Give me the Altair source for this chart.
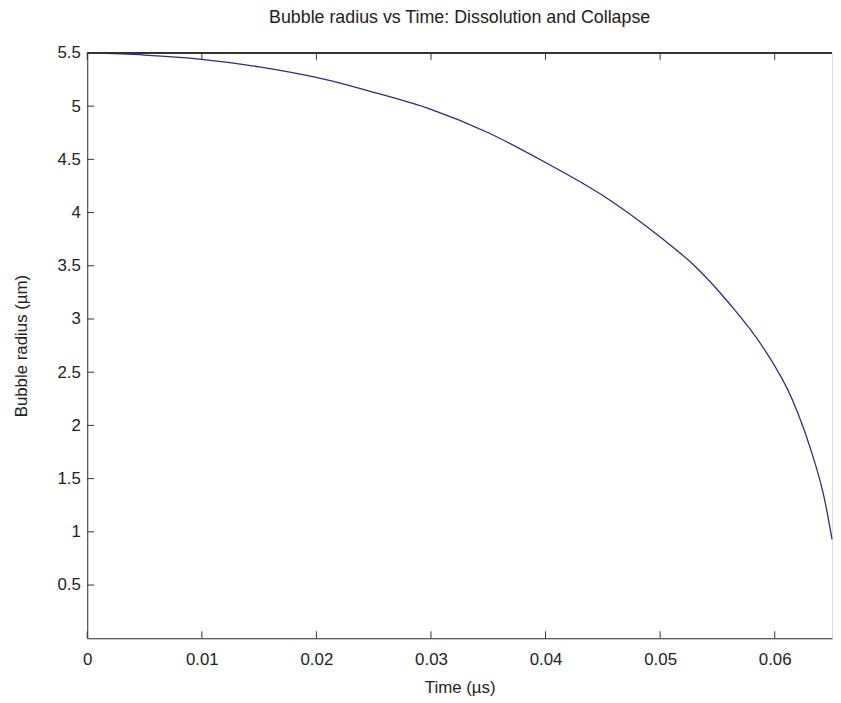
import altair as alt
import pandas as pd

# Curve
time_us = [0.0, 0.005, 0.01, 0.015, 0.02, 0.025, 0.03, 0.035, 0.04, 0.045,
           0.05, 0.053, 0.056, 0.059, 0.0615, 0.063, 0.0644, 0.065]
radius_um = [5.50, 5.48, 5.44, 5.37, 5.27, 5.13, 4.97, 4.75, 4.47, 4.16,
             3.77, 3.50, 3.15, 2.73, 2.25, 1.82, 1.28, 0.93]

x_ticks = [0, 0.01, 0.02, 0.03, 0.04, 0.05, 0.06]
y_ticks = [0.5, 1, 1.5, 2, 2.5, 3, 3.5, 4, 4.5, 5, 5.5]

W, H = 752, 591
FONT = "Liberation Sans"

df = pd.DataFrame({"t": time_us, "r": radius_um})
xt = pd.DataFrame({"t": x_ticks})
yt = pd.DataFrame({"r": y_ticks})

xscale = alt.Scale(domain=[0, 0.065], nice=False, zero=False)
yscale = alt.Scale(domain=[0, 5.5], nice=False, zero=False)

x_axis = alt.Axis(values=x_ticks, format="~g", tickSize=0, labelPadding=14,
                  title="Time (µs)", titlePadding=12, grid=False,
                  domainColor="#333333", labelFont=FONT, labelFontSize=17,
                  labelColor="#222222", titleFont=FONT, titleFontSize=17,
                  titleFontWeight="normal", titleColor="#222222",
                  labelFlush=False)
y_axis = alt.Axis(values=y_ticks, format="~g", tickSize=0, labelPadding=7,
                  title="Bubble radius (µm)", titlePadding=27, grid=False,
                  domainColor="#333333", labelFont=FONT, labelFontSize=17,
                  labelColor="#222222", titleFont=FONT, titleFontSize=17,
                  titleFontWeight="normal", titleColor="#222222",
                  labelFlush=False)

line = alt.Chart(df).mark_line(color="#25307a", strokeWidth=1.3,
                               interpolate="monotone").encode(
    x=alt.X("t:Q", scale=xscale, axis=x_axis),
    y=alt.Y("r:Q", scale=yscale, axis=y_axis),
)

top_border = alt.Chart(xt).mark_rule(color="#333333", strokeWidth=1).encode(
    x=alt.value(0), x2=alt.value(W), y=alt.value(0)
)

bottom_ticks = alt.Chart(xt).mark_rule(color="#333333").encode(
    x=alt.X("t:Q", scale=xscale), y=alt.value(H), y2=alt.value(H - 7)
)
top_ticks = alt.Chart(xt).mark_rule(color="#333333").encode(
    x=alt.X("t:Q", scale=xscale), y=alt.value(0), y2=alt.value(7)
)
left_ticks = alt.Chart(yt).mark_rule(color="#333333").encode(
    y=alt.Y("r:Q", scale=yscale), x=alt.value(0), x2=alt.value(7)
)

chart = alt.layer(line, top_border, bottom_ticks, top_ticks, left_ticks).properties(
    width=W,
    height=H,
    title=alt.TitleParams(
        "Bubble radius vs Time: Dissolution and Collapse",
        font=FONT, fontSize=18, fontWeight="normal", color="#222222",
        anchor="middle", offset=17,
    ),
    autosize=alt.AutoSizeParams(type="none"),
    padding={"left": 80, "top": 42, "right": 1, "bottom": 62},
).configure_view(stroke=None).configure(background="white")

chart.save("out.html", embed_options={"renderer": "svg", "actions": False})
